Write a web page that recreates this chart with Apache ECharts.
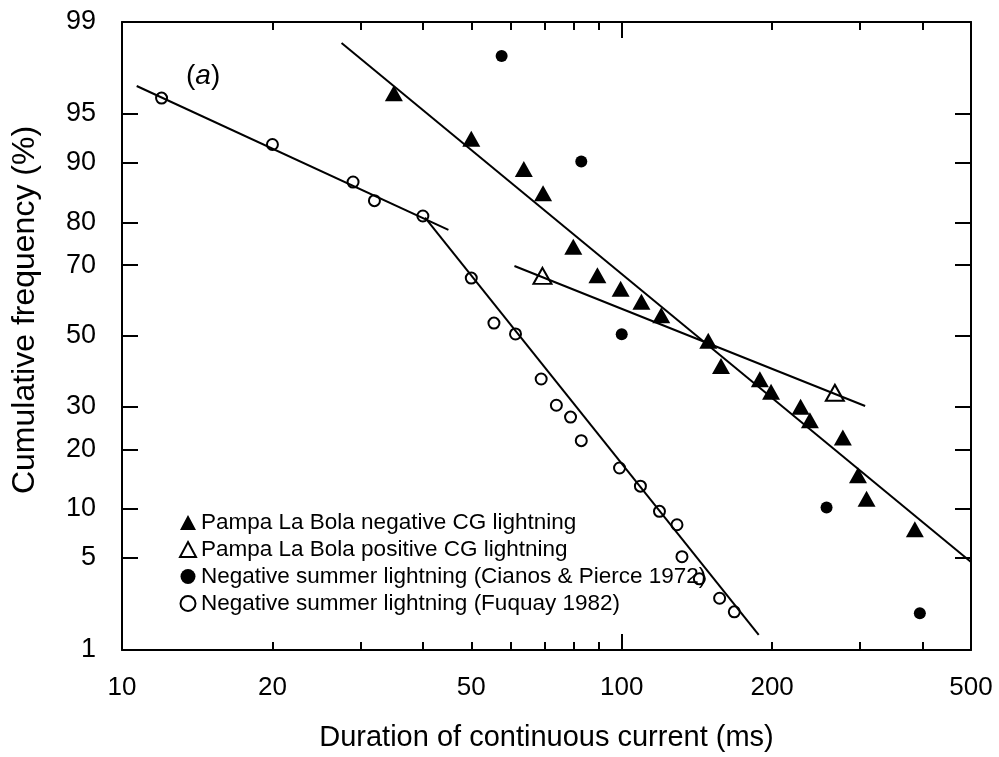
<!DOCTYPE html>
<html><head><meta charset="utf-8">
<script src="https://cdn.jsdelivr.net/npm/echarts@6/dist/echarts.min.js"></script>
<style>html,body{margin:0;padding:0;background:#fff}#c{width:999px;height:757px}</style>
</head><body><div id="c"></div>
<script>
// ---- data (duration ms, cumulative frequency %) ----
const xTickLabels = [10, 20, 50, 100, 200, 500];
const xMajorTicks = [10, 100];
const xMinorTicks = [20, 30, 40, 50, 60, 70, 80, 90, 200, 300, 400, 500];
const yTickLabels = [1, 5, 10, 20, 30, 50, 70, 80, 90, 95, 99];

const plbNegative = [[35, 96.4], [50, 92.8], [63.7, 89.2], [69.6, 85.5], [80, 74.6], [89.4, 67.4],
  [99.5, 63.7], [109.5, 60], [120, 56.1], [149, 48.6], [158, 41.2], [189, 37.4], [199, 34],
  [228, 30], [238, 26.6], [277, 22.6], [297, 15.1], [309, 11.4], [386, 7.6]];
const plbPositive = [[69.4, 67.2], [267, 33.7]];
const cianosPierce = [[57.5, 98.1], [83, 90.2], [100, 50.5], [257, 10.2], [395, 2.0]];
const fuquay = [[12, 96.1], [20, 92.2], [29, 87.3], [32, 84.2], [40, 81.3], [50, 66.6], [55.5, 53.8],
  [61.3, 50.6], [69, 37.5], [74, 30.4], [79, 27.4], [83, 21.9], [99, 16.4], [109, 13.3], [119, 9.7],
  [129, 8.1], [132, 5.1], [143, 3.6], [157, 2.6], [168, 2.05]];

const fitNegative = [[27.5, 98.5], [500, 4.7]];
const fitPositive = [[61, 69.8], [307, 30.2]];
const fitFuquay1 = [[10.7, 96.8], [45, 78.4]];
const fitFuquay2 = [[40.4, 81.0], [188, 1.34]];

const seriesNames = [
  'Pampa La Bola negative CG lightning',
  'Pampa La Bola positive CG lightning',
  'Negative summer lightning (Cianos & Pierce 1972)',
  'Negative summer lightning (Fuquay 1982)'
];

// ---- scales: log10 for x, normal-probability (probit) for y ----
function probit(p) {
  const a = [-3.969683028665376e+01, 2.209460984245205e+02, -2.759285104469687e+02, 1.383577518672690e+02, -3.066479806614716e+01, 2.506628277459239e+00];
  const b = [-5.447609879822406e+01, 1.615858368580409e+02, -1.556989798598866e+02, 6.680131188771972e+01, -1.328068155288572e+01];
  const c = [-7.784894002430293e-03, -3.223964580411365e-01, -2.400758277161838e+00, -2.549732539343734e+00, 4.374664141464968e+00, 2.938163982698783e+00];
  const d = [7.784695709041462e-03, 3.224671290700398e-01, 2.445134137142996e+00, 3.754408661907416e+00];
  const pl = 0.02425, ph = 1 - pl;
  let q, r;
  if (p < pl) { q = Math.sqrt(-2 * Math.log(p)); return (((((c[0]*q+c[1])*q+c[2])*q+c[3])*q+c[4])*q+c[5]) / ((((d[0]*q+d[1])*q+d[2])*q+d[3])*q+1); }
  if (p <= ph) { q = p - 0.5; r = q*q; return (((((a[0]*r+a[1])*r+a[2])*r+a[3])*r+a[4])*r+a[5])*q / (((((b[0]*r+b[1])*r+b[2])*r+b[3])*r+b[4])*r+1); }
  q = Math.sqrt(-2 * Math.log(1 - p)); return -(((((c[0]*q+c[1])*q+c[2])*q+c[3])*q+c[4])*q+c[5]) / ((((d[0]*q+d[1])*q+d[2])*q+d[3])*q+1);
}
const X = v => Math.log10(v);
const Y = p => probit(p / 100);
const T = arr => arr.map(([x, y]) => [X(x), Y(y)]);

const FONT = '"Liberation Sans", Arial, Helvetica, sans-serif';
const xMin = X(10), xMax = X(500), yMin = Y(1), yMax = Y(99);

function xAxisDef(pos, ticks, len, showLabel, showLine) {
  return {
    type: 'value', position: pos, min: xMin, max: xMax, scale: true,
    splitLine: { show: false },
    axisLine: { show: showLine, onZero: false, lineStyle: { color: '#000', width: 2 } },
    axisTick: { show: true, inside: true, length: len, customValues: ticks.map(X), lineStyle: { color: '#000', width: 2 } },
    axisLabel: {
      show: showLabel, customValues: xTickLabels.map(X), margin: 25,
      fontFamily: FONT, fontSize: 26, color: '#000',
      formatter: v => String(Math.round(Math.pow(10, v)))
    },
    name: showLabel ? 'Duration of continuous current (ms)' : '',
    nameLocation: 'middle', nameGap: 73,
    nameTextStyle: { fontFamily: FONT, fontSize: 29, color: '#000' }
  };
}
function yAxisDef(pos, showLabel) {
  return {
    type: 'value', position: pos, min: yMin, max: yMax, scale: true,
    splitLine: { show: false },
    axisLine: { show: true, onZero: false, lineStyle: { color: '#000', width: 2 } },
    axisTick: { show: true, inside: true, length: 16, customValues: yTickLabels.map(Y), lineStyle: { color: '#000', width: 2 } },
    axisLabel: {
      show: showLabel, customValues: yTickLabels.map(Y), margin: 26,
      fontFamily: FONT, fontSize: 27, color: '#000',
      formatter: v => {
        let best = yTickLabels[0], bd = Infinity;
        yTickLabels.forEach(t => { const dd = Math.abs(Y(t) - v); if (dd < bd) { bd = dd; best = t; } });
        return String(best);
      }
    }
  };
}

const lineStyle = { color: '#000', width: 2 };
function fitLine(data) {
  return { type: 'line', data: T(data), symbol: 'none', silent: true, lineStyle, z: 2, animation: false };
}

const chart = echarts.init(document.getElementById('c'), null, { renderer: 'canvas' });
chart.setOption({
  animation: false,
  backgroundColor: '#fff',
  grid: { left: 122, right: 28, top: 22, bottom: 107, containLabel: false },
  xAxis: [
    xAxisDef('bottom', xMajorTicks, 16, true, true),
    xAxisDef('bottom', xMinorTicks, 8, false, false),
    xAxisDef('top', xMajorTicks, 16, false, true),
    xAxisDef('top', xMinorTicks, 8, false, false)
  ],
  yAxis: [yAxisDef('left', true), yAxisDef('right', false)],
  legend: {
    orient: 'vertical', left: 174, top: 506,
    itemWidth: 16, itemHeight: 15, itemGap: 4, itemStyle: { opacity: 1 },
    textStyle: { fontFamily: FONT, fontSize: 22.5, color: '#000', lineHeight: 22 },
    selectedMode: false,
    data: seriesNames
  },
  graphic: [
    {
      type: 'text',
      rotation: Math.PI / 2,
      style: { text: 'Cumulative frequency (%)', font: '32px ' + FONT, fill: '#000', align: 'center', verticalAlign: 'middle' },
      x: 25, y: 310
    },
    {
      type: 'text', x: 186, y: 62,
      style: {
        text: '{n|(}{i|a}{n|)}',
        rich: {
          n: { fontFamily: FONT, fontSize: 28, fill: '#000', color: '#000' },
          i: { fontFamily: FONT, fontSize: 28, fontStyle: 'italic', fill: '#000', color: '#000' }
        }
      }
    }
  ],
  series: [
    { name: seriesNames[0], type: 'scatter', data: T(plbNegative), symbol: 'triangle', symbolSize: [18, 16],
      itemStyle: { color: '#000', opacity: 1 }, z: 3 },
    { name: seriesNames[1], type: 'scatter', data: T(plbPositive), symbol: 'triangle', symbolSize: [18, 16],
      itemStyle: { color: 'rgba(0,0,0,0)', borderColor: '#000', borderWidth: 2, opacity: 1 }, z: 3 },
    { name: seriesNames[2], type: 'scatter', data: T(cianosPierce), symbol: 'circle', symbolSize: 12,
      itemStyle: { color: '#000', opacity: 1 }, z: 3 },
    { name: seriesNames[3], type: 'scatter', data: T(fuquay), symbol: 'circle', symbolSize: 11,
      itemStyle: { color: 'rgba(0,0,0,0)', borderColor: '#000', borderWidth: 2, opacity: 1 }, z: 3 },
    fitLine(fitNegative), fitLine(fitPositive), fitLine(fitFuquay1), fitLine(fitFuquay2)
  ]
});
</script></body></html>
